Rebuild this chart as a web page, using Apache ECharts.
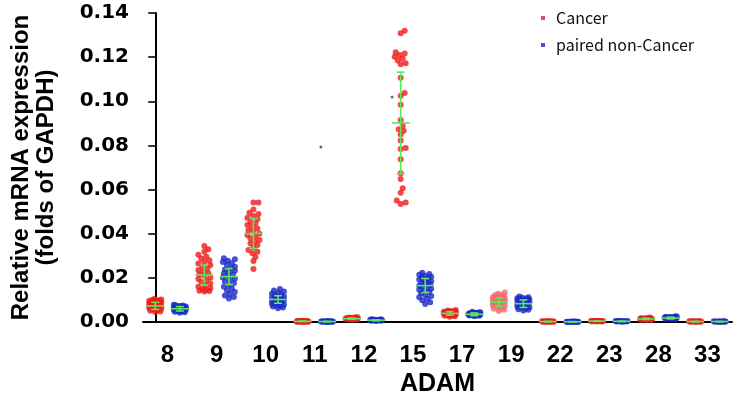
<!DOCTYPE html>
<html><head><meta charset="utf-8">
<script src="https://cdn.jsdelivr.net/npm/echarts@6/dist/echarts.min.js"></script>
<style>html,body{margin:0;padding:0;background:#fff}#c{width:735px;height:407px}</style>
</head><body><div id="c"></div>
<script>
// ---------------- DATA ----------------
const categories = ['8','9','10','11','12','15','17','19','22','23','28','33'];
const legendNames = ['Cancer', 'paired non-Cancer'];
const yTicks = [0, 0.02, 0.04, 0.06, 0.08, 0.10, 0.12, 0.14];

const cancerValues = [
  [0.0104,0.0102,0.0100,0.0099,0.0097,0.0096,0.0094,0.0092,0.0090,0.0089,0.0087,0.0085,0.0083,0.0081,0.0080,0.0078,0.0076,0.0074,0.0072,0.0070,0.0068,0.0066,0.0063,0.0060,0.0057,0.0054,0.0051,0.0048,0.0045],
  [0.0344,0.0330,0.0318,0.0305,0.0296,0.0288,0.0280,0.0272,0.0265,0.0258,0.0250,0.0243,0.0236,0.0228,0.0221,0.0215,0.0208,0.0201,0.0195,0.0188,0.0181,0.0174,0.0167,0.0160,0.0154,0.0149,0.0145,0.0142,0.0140,0.0138],
  [0.0541,0.0541,0.0510,0.0495,0.0489,0.0480,0.0472,0.0465,0.0454,0.0446,0.0439,0.0430,0.0424,0.0416,0.0409,0.0400,0.0394,0.0386,0.0379,0.0371,0.0364,0.0356,0.0349,0.0338,0.0326,0.0318,0.0311,0.0295,0.0276,0.0240],
  [0.0005,0.0004,0.0004,0.0004,0.0003,0.0003,0.0003,0.0003,0.0003,0.0002,0.0002,0.0002,0.0002,0.0002,0.0002,0.0001,0.0001,0.0001,0.0001,0.0001],
  [0.0022,0.0021,0.0020,0.0019,0.0018,0.0018,0.0017,0.0017,0.0016,0.0016,0.0015,0.0015,0.0014,0.0014,0.0013,0.0013,0.0012,0.0012,0.0011,0.0010],
  [0.1320,0.1308,0.1222,0.1217,0.1210,0.1202,0.1194,0.1185,0.1172,0.1168,0.1107,0.1037,0.1025,0.0984,0.0915,0.0888,0.0873,0.0867,0.0849,0.0822,0.0788,0.0784,0.0737,0.0674,0.0648,0.0606,0.0586,0.0550,0.0541,0.0535],
  [0.0054,0.0052,0.0050,0.0049,0.0048,0.0047,0.0046,0.0045,0.0044,0.0043,0.0042,0.0041,0.0040,0.0039,0.0038,0.0037,0.0036,0.0035,0.0034,0.0033,0.0032,0.0031,0.0030,0.0028,0.0026,0.0024],
  [0.0134,0.0128,0.0124,0.0121,0.0118,0.0115,0.0112,0.0110,0.0108,0.0105,0.0102,0.0100,0.0098,0.0095,0.0092,0.0090,0.0087,0.0084,0.0081,0.0078,0.0075,0.0072,0.0068,0.0064,0.0060,0.0055,0.0050],
  [0.0004,0.0003,0.0003,0.0003,0.0002,0.0002,0.0002,0.0002,0.0002,0.0001,0.0001,0.0001,0.0001,0.0001],
  [0.0006,0.0005,0.0005,0.0005,0.0004,0.0004,0.0004,0.0004,0.0003,0.0003,0.0003,0.0003,0.0002,0.0002],
  [0.0020,0.0019,0.0018,0.0017,0.0016,0.0016,0.0015,0.0015,0.0014,0.0014,0.0013,0.0013,0.0012,0.0012,0.0011,0.0010,0.0009,0.0008],
  [0.0004,0.0003,0.0003,0.0003,0.0002,0.0002,0.0002,0.0002,0.0002,0.0001,0.0001,0.0001,0.0001]
];
const normalValues = [
  [0.0078,0.0076,0.0075,0.0073,0.0072,0.0070,0.0069,0.0068,0.0066,0.0065,0.0064,0.0063,0.0062,0.0061,0.0060,0.0059,0.0058,0.0057,0.0056,0.0055,0.0054,0.0053,0.0052,0.0050,0.0048,0.0046,0.0044,0.0042],
  [0.0289,0.0284,0.0278,0.0272,0.0266,0.0258,0.0250,0.0244,0.0238,0.0232,0.0226,0.0220,0.0214,0.0208,0.0202,0.0196,0.0190,0.0183,0.0176,0.0168,0.0160,0.0152,0.0144,0.0136,0.0128,0.0120,0.0113,0.0107],
  [0.0149,0.0143,0.0138,0.0133,0.0128,0.0123,0.0119,0.0115,0.0112,0.0109,0.0106,0.0103,0.0100,0.0097,0.0094,0.0091,0.0088,0.0085,0.0082,0.0079,0.0076,0.0073,0.0070,0.0066,0.0062],
  [0.0004,0.0003,0.0003,0.0003,0.0002,0.0002,0.0002,0.0002,0.0002,0.0001,0.0001,0.0001,0.0001,0.0001,0.0001],
  [0.0013,0.0012,0.0011,0.0010,0.0010,0.0009,0.0009,0.0008,0.0008,0.0008,0.0007,0.0007,0.0006,0.0006,0.0005],
  [0.0223,0.0218,0.0214,0.0210,0.0205,0.0200,0.0196,0.0192,0.0188,0.0184,0.0180,0.0176,0.0172,0.0168,0.0164,0.0160,0.0156,0.0151,0.0146,0.0141,0.0136,0.0130,0.0124,0.0118,0.0112,0.0105,0.0098,0.0090,0.0082],
  [0.0046,0.0044,0.0043,0.0042,0.0041,0.0040,0.0039,0.0038,0.0037,0.0036,0.0036,0.0035,0.0035,0.0034,0.0033,0.0032,0.0031,0.0030,0.0029,0.0028,0.0026],
  [0.0115,0.0112,0.0110,0.0108,0.0106,0.0104,0.0102,0.0100,0.0097,0.0094,0.0091,0.0088,0.0085,0.0082,0.0079,0.0076,0.0073,0.0070,0.0067,0.0064,0.0061,0.0058,0.0055,0.0052],
  [0.0002,0.0002,0.0002,0.0001,0.0001,0.0001,0.0001,0.0001,0.0001,0.0000,0.0000,0.0000],
  [0.0005,0.0004,0.0004,0.0004,0.0003,0.0003,0.0003,0.0003,0.0002,0.0002,0.0002,0.0001],
  [0.0026,0.0025,0.0024,0.0023,0.0022,0.0021,0.0020,0.0020,0.0019,0.0019,0.0018,0.0018,0.0017,0.0016,0.0015,0.0014,0.0013,0.0012],
  [0.0003,0.0003,0.0002,0.0002,0.0002,0.0002,0.0002,0.0001,0.0001,0.0001,0.0001,0.0001]
];
const cancerMean = [0.0073,0.0213,0.0401,0.0003,0.0015,0.0902,0.0039,0.0090,0.0002,0.0004,0.0014,0.0002];
const cancerSD   = [0.0016,0.0045,0.0068,0.0001,0.0003,0.0230,0.0008,0.0018,0.0001,0.0001,0.0003,0.0001];
const normalMean = [0.0060,0.0206,0.0102,0.0002,0.0008,0.0165,0.0035,0.0083,0.0001,0.0003,0.0018,0.0002];
const normalSD   = [0.0010,0.0036,0.0017,0.0001,0.0002,0.0032,0.0006,0.0017,0.0001,0.0001,0.0004,0.0001];
// two stray grey specks in the figure: [slot position (fractional), value]
const strayPoints = [[6.75, 0.0793], [9.65, 0.1019]];

// ---------------- BUILD ----------------
const RED = '#f01a1a', BLUE = '#1a28c8', PINK = '#f26a6a', GREEN = '#5be85b';
const slots = [];
categories.forEach(c => { slots.push(c + ' C'); slots.push(c + ' N'); });

function makePoints(arr, side, altCat, altColor) {
  const out = [];
  arr.forEach((vals, i) => vals.forEach(v => {
    const item = { value: [2 * i + side, v] };
    if (categories[i] === altCat) item.itemStyle = { color: altColor };
    out.push(item);
  }));
  return out;
}
const cancerPts = makePoints(cancerValues, 0, '19', PINK);
const normalPts = makePoints(normalValues, 1, null, null);
const stats = [];
categories.forEach((c, i) => {
  stats.push([2 * i, cancerMean[i], cancerSD[i]]);
  stats.push([2 * i + 1, normalMean[i], normalSD[i]]);
});

const chart = echarts.init(document.getElementById('c'), null, { renderer: 'canvas' });

const boldFont = 'Liberation Sans, Arial, sans-serif';
const option = {
  animation: false,
  backgroundColor: '#fff',
  grid: { left: 143, right: 3, top: 13, bottom: 85, containLabel: false },
  legend: {
    data: legendNames,
    orient: 'vertical',
    left: 536, top: 5,
    icon: 'rect', itemWidth: 4, itemHeight: 4, itemGap: 11,
    textStyle: { fontFamily: 'Noto Sans CJK SC, Noto Sans, sans-serif', fontSize: 16, color: '#111', padding: [0,0,0,6] },
    selectedMode: false
  },
  xAxis: [
    { type: 'category', data: slots, gridIndex: 0, position: 'bottom',
      axisLine: { lineStyle: { color: '#000', width: 2 } },
      axisTick: { alignWithLabel: true, length: 7, lineStyle: { color: '#000', width: 1.6 } },
      axisLabel: { show: false }, splitLine: { show: false } },
    { type: 'category', data: categories, gridIndex: 0, position: 'bottom', offset: 0,
      axisLine: { show: false }, axisTick: { show: false }, splitLine: { show: false },
      axisLabel: { color: '#000', fontWeight: 'bold', fontSize: 24, fontFamily: boldFont, margin: 21 },
      name: 'ADAM', nameLocation: 'middle', nameGap: 44,
      nameTextStyle: { color: '#000', fontWeight: 'bold', fontSize: 25, fontFamily: boldFont } },
    { type: 'value', gridIndex: 0, position: 'bottom', min: -0.5, max: slots.length - 0.5, show: false }
  ],
  yAxis: {
    type: 'value', min: 0, max: 0.14, interval: 0.02,
    axisLine: { show: true, lineStyle: { color: '#000', width: 2 } },
    axisTick: { show: true, length: 7, lineStyle: { color: '#000', width: 1.6 } },
    splitLine: { show: false },
    axisLabel: { color: '#000', fontWeight: 'bold', fontSize: 20, fontFamily: 'DejaVu Sans, sans-serif', margin: 14,
      formatter: v => v.toFixed(2) },
    name: 'Relative mRNA expression\n(folds of GAPDH)', nameLocation: 'middle', nameGap: 84,
    nameTextStyle: { color: '#000', fontWeight: 'bold', fontSize: 24, fontFamily: boldFont, lineHeight: 25 }
  },
  series: [
    { name: legendNames[0], type: 'scatter', xAxisIndex: 0, symbol: 'circle', symbolSize: 6,
      itemStyle: { color: RED }, data: cancerPts, z: 2 },
    { name: legendNames[1], type: 'scatter', xAxisIndex: 0, symbol: 'circle', symbolSize: 6,
      itemStyle: { color: BLUE }, data: normalPts, z: 2 },
    { name: 'stray', type: 'scatter', xAxisIndex: 2, symbolSize: 3, itemStyle: { color: '#444' },
      data: strayPoints, z: 6 },
    { name: 'meanSD', type: 'custom', xAxisIndex: 0, z: 5, data: stats,
      renderItem: (params, api) => {
        const x = api.value(0), m = api.value(1), s = api.value(2);
        const pm = api.coord([x, m]), pt = api.coord([x, m + s]), pb = api.coord([x, m - s]);
        const st = { stroke: GREEN, lineWidth: 1.6 };
        return { type: 'group', children: [
          { type: 'line', shape: { x1: pm[0] - 9, y1: pm[1], x2: pm[0] + 9, y2: pm[1] }, style: st },
          { type: 'line', shape: { x1: pm[0], y1: pt[1], x2: pm[0], y2: pb[1] }, style: st },
          { type: 'line', shape: { x1: pm[0] - 4, y1: pt[1], x2: pm[0] + 4, y2: pt[1] }, style: st },
          { type: 'line', shape: { x1: pm[0] - 4, y1: pb[1], x2: pm[0] + 4, y2: pb[1] }, style: st }
        ]};
      } }
  ]
};
chart.setOption(option);

// beeswarm layout (horizontal spread of overlapping dots within each slot)
function swarm(points) {
  const STEP = 1, MAXSTEP = 6, MIN = 4.6;
  const groups = {};
  points.forEach(p => { (groups[p.value[0]] = groups[p.value[0]] || []).push(p); });
  Object.keys(groups).forEach(k => {
    const items = groups[k].map(p => ({ p, y: chart.convertToPixel({ yAxisIndex: 0 }, p.value[1]) }));
    items.sort((a, b) => b.y - a.y);
    const placed = [];
    items.forEach(it => {
      let best = 0, bestD = -1;
      for (let j = 0; j <= 2 * MAXSTEP; j++) {
        const off = (j % 2 ? 1 : -1) * Math.ceil(j / 2) * STEP;
        let d = Infinity;
        placed.forEach(q => { const dd = Math.hypot(q.x - off, q.y - it.y); if (dd < d) d = dd; });
        if (d >= MIN) { best = off; bestD = d; break; }
        if (d > bestD) { bestD = d; best = off; }
      }
      placed.push({ x: best, y: it.y });
      it.p.symbolOffset = [best, 0];
    });
  });
}
swarm(cancerPts);
swarm(normalPts);
chart.setOption({ series: [{ data: cancerPts }, { data: normalPts }] });
</script>
</body></html>
